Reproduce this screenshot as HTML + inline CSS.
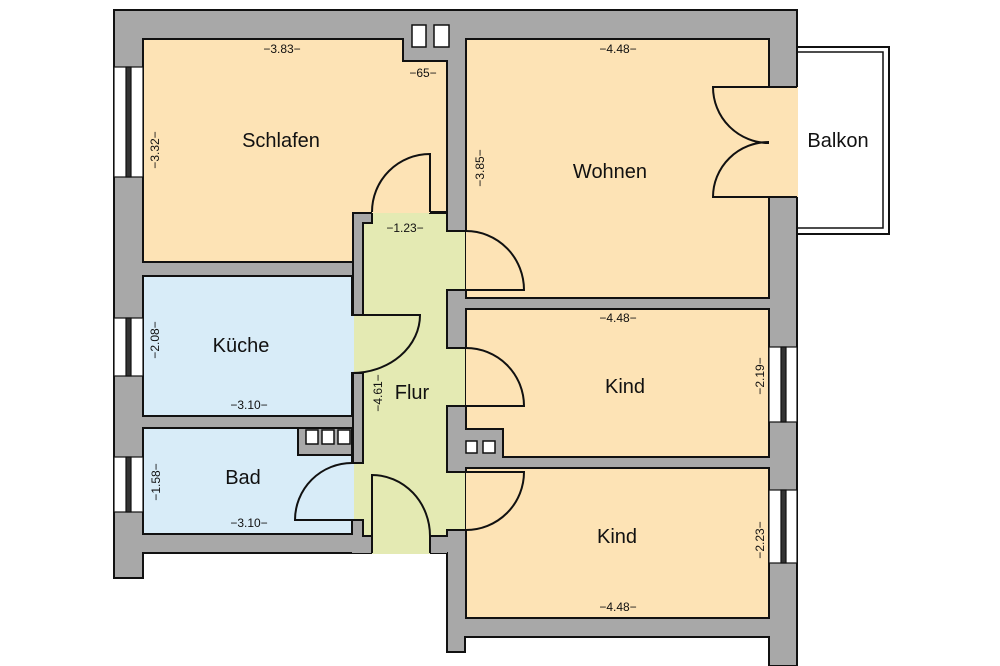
<!DOCTYPE html>
<html><head><meta charset="utf-8"><style>
html,body{margin:0;padding:0;background:#fff;}
svg{display:block;}
text{font-family:"Liberation Sans",sans-serif;fill:#111;}
.n{font-size:20px;text-anchor:middle;}
.d{font-size:12px;text-anchor:middle;}
</style></head><body>
<svg width="1000" height="666" viewBox="0 0 1000 666" xmlns="http://www.w3.org/2000/svg">
<!-- walls -->
<polygon points="114,10 797,10 797,666 769,666 769,637 465,637 465,652 447,652 447,553 430,553 430,553 372,553 143,553 143,578 114,578" fill="#a8a8a8" stroke="#111" stroke-width="2"/>
<!-- balcony -->
<rect x="797" y="47" width="92" height="187" fill="#fff" stroke="#111" stroke-width="2"/>
<rect x="797" y="52" width="86" height="176" fill="none" stroke="#111" stroke-width="1.5"/>
<!-- flur -->
<rect x="363" y="212" width="84" height="324" fill="#e4eab3"/>
<rect x="372" y="536" width="58" height="18" fill="#e4eab3"/>
<rect x="352" y="315" width="12" height="58" fill="#e4eab3"/>
<rect x="352" y="463" width="12" height="57" fill="#e4eab3"/>
<rect x="446" y="231" width="21" height="59" fill="#e4eab3"/>
<rect x="446" y="348" width="21" height="58" fill="#e4eab3"/>
<rect x="446" y="472" width="21" height="58" fill="#e4eab3"/>
<!-- wall stubs in flur -->
<polygon points="353,213 372,213 372,223 363,223 363,315 353,315" fill="#a8a8a8" stroke="#111" stroke-width="2"/>
<polygon points="353,373 363,373 363,463 353,463" fill="#a8a8a8" stroke="#111" stroke-width="2"/>
<polygon points="352,520 363,520 363,536 372,536 372,553 352,553" fill="#a8a8a8"/>
<polyline points="353,520 363,520 363,536 372,536 372,553" fill="none" stroke="#111" stroke-width="2"/>
<rect x="430" y="536" width="17" height="17" fill="#a8a8a8"/>
<polygon points="430,200 446,200 446,213 430,213" fill="#a8a8a8"/>
<polyline points="430,212 430,213 447,213" fill="none" stroke="#111" stroke-width="2"/>
<polyline points="447,213 447,231 466,231" fill="none" stroke="#111" stroke-width="2"/>
<polyline points="466,290 447,290 447,348 466,348" fill="none" stroke="#111" stroke-width="2"/>
<polyline points="466,406 447,406 447,472 466,472" fill="none" stroke="#111" stroke-width="2"/>
<polyline points="466,530 447,530 447,536 430,536 430,553" fill="none" stroke="#111" stroke-width="2"/>
<!-- Schlafen -->
<polygon points="143,39 403,39 403,61 447,61 447,212 430,212 430,213 372,213 353,213 353,262 143,262" fill="#fde3b5"/>
<polyline points="430,212 447,212 447,61 403,61 403,39 143,39 143,262 353,262 353,213 372,213" fill="none" stroke="#111" stroke-width="2"/>
<rect x="412" y="25" width="14" height="22" fill="#fff" stroke="#111" stroke-width="1.5"/>
<rect x="434" y="25" width="15" height="22" fill="#fff" stroke="#111" stroke-width="1.5"/>
<!-- Wohnen -->
<rect x="466" y="39" width="303" height="259" fill="#fde3b5" stroke="#111" stroke-width="2"/>
<rect x="466" y="232" width="2" height="57" fill="#fde3b5"/>
<rect x="713" y="87" width="85" height="110" fill="#fde3b5"/>
<!-- Kind upper -->
<polygon points="466,309 769,309 769,457 503,457 503,429 466,429" fill="#fde3b5" stroke="#111" stroke-width="2"/>
<rect x="466" y="349" width="2" height="56" fill="#fde3b5"/>
<rect x="466" y="441" width="11" height="12" fill="#fff" stroke="#111" stroke-width="1.5"/>
<rect x="483" y="441" width="12" height="12" fill="#fff" stroke="#111" stroke-width="1.5"/>
<!-- Kind lower -->
<rect x="466" y="468" width="303" height="150" fill="#fde3b5" stroke="#111" stroke-width="2"/>
<rect x="466" y="473" width="2" height="56" fill="#fde3b5"/>
<!-- Küche -->
<rect x="143" y="276" width="209" height="140" fill="#d8ecf8" stroke="#111" stroke-width="2"/>
<rect x="351" y="316" width="3" height="56" fill="#d8ecf8"/>
<!-- Bad -->
<polygon points="143,428 352,428 352,534 143,534" fill="#d8ecf8" stroke="#111" stroke-width="2"/>
<polygon points="298,428 352,428 352,455 298,455" fill="#a8a8a8" stroke="#111" stroke-width="2"/>
<rect x="351" y="464" width="3" height="55" fill="#d8ecf8"/>
<rect x="306" y="430" width="12" height="14" fill="#fff" stroke="#111" stroke-width="1.5"/>
<rect x="322" y="430" width="12" height="14" fill="#fff" stroke="#111" stroke-width="1.5"/>
<rect x="338" y="430" width="12" height="14" fill="#fff" stroke="#111" stroke-width="1.5"/>
<!-- doors -->
<g fill="none" stroke="#111" stroke-width="2">
<path d="M430,212 L430,154 A58,58 0 0 0 372,212"/>
<path d="M466,231 A58,59 0 0 1 524,290 L466,290"/>
<path d="M352,315 L420,315 A68,58 0 0 1 352,373"/>
<path d="M352,463 A57,57 0 0 0 295,520 L352,520"/>
<path d="M372,553 L372,475 A58,61 0 0 1 430,536"/>
<path d="M466,348 A58,58 0 0 1 524,406 L466,406"/>
<path d="M466,472 L524,472 A58,58 0 0 1 466,530"/>
<path d="M769,87 L713,87 A56,56 0 0 0 769,143"/>
<path d="M769,197 L713,197 A56,55 0 0 1 769,142"/>
<line x1="769" y1="87" x2="797" y2="87"/>
<line x1="769" y1="197" x2="797" y2="197"/>
</g>
<!-- windows -->
<g stroke="#111" stroke-width="1.2">
<rect x="114" y="67" width="29" height="110" fill="#fff"/><rect x="126" y="67" width="5" height="110" fill="#333"/>
<rect x="114" y="318" width="29" height="58" fill="#fff"/><rect x="126" y="318" width="5" height="58" fill="#333"/>
<rect x="114" y="457" width="29" height="55" fill="#fff"/><rect x="126" y="457" width="5" height="55" fill="#333"/>
<rect x="769" y="347" width="28" height="75" fill="#fff"/><rect x="781" y="347" width="5" height="75" fill="#333"/>
<rect x="769" y="490" width="28" height="73" fill="#fff"/><rect x="781" y="490" width="5" height="73" fill="#333"/>
</g>
<!-- labels -->
<text class="n" x="281" y="147">Schlafen</text>
<text class="n" x="610" y="178">Wohnen</text>
<text class="n" x="838" y="147">Balkon</text>
<text class="n" x="241" y="352">Küche</text>
<text class="n" x="412" y="399">Flur</text>
<text class="n" x="625" y="393">Kind</text>
<text class="n" x="617" y="543">Kind</text>
<text class="n" x="243" y="484">Bad</text>
<text class="d" x="282" y="53">−3.83−</text>
<text class="d" x="423" y="77">−65−</text>
<text class="d" x="405" y="232">−1.23−</text>
<text class="d" x="618" y="53">−4.48−</text>
<text class="d" x="618" y="322">−4.48−</text>
<text class="d" x="618" y="611">−4.48−</text>
<text class="d" x="249" y="409">−3.10−</text>
<text class="d" x="249" y="527">−3.10−</text>
<text class="d" transform="translate(159,150) rotate(-90)">−3.32−</text>
<text class="d" transform="translate(484,168) rotate(-90)">−3.85−</text>
<text class="d" transform="translate(159,340) rotate(-90)">−2.08−</text>
<text class="d" transform="translate(160,482) rotate(-90)">−1.58−</text>
<text class="d" transform="translate(382,393) rotate(-90)">−4.61−</text>
<text class="d" transform="translate(764,376) rotate(-90)">−2.19−</text>
<text class="d" transform="translate(764,540) rotate(-90)">−2.23−</text>
</svg>
</body></html>
